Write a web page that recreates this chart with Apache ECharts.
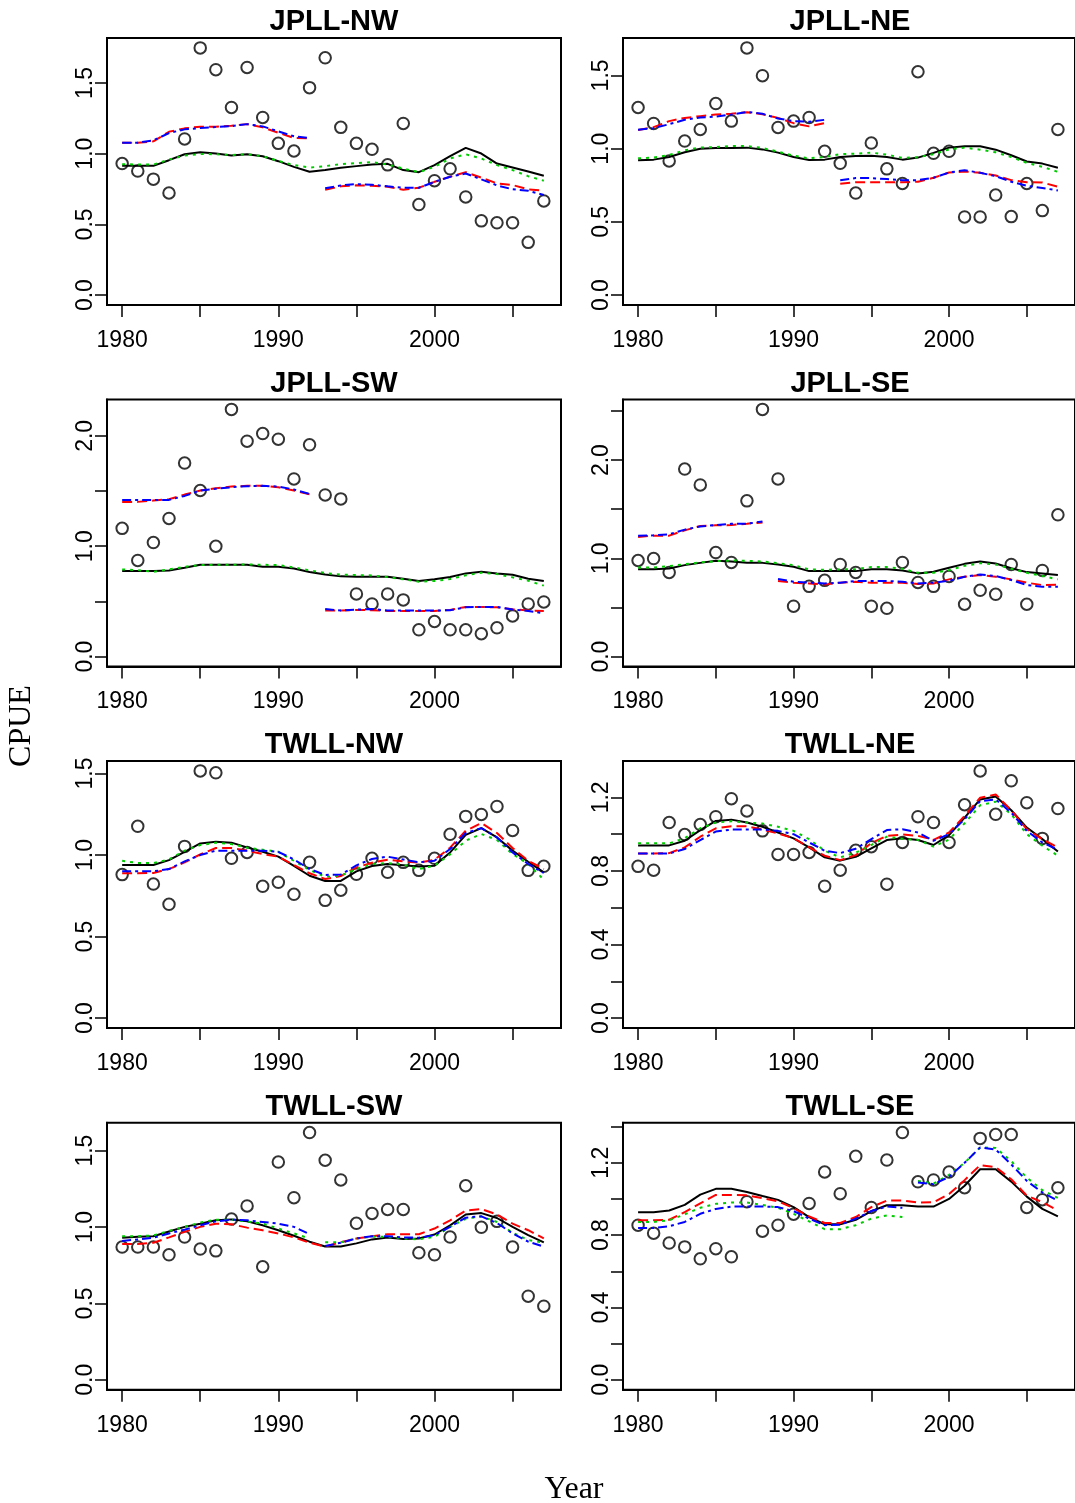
<!DOCTYPE html>
<html>
<head>
<meta charset="utf-8">
<title>CPUE</title>
<script src="https://cdn.jsdelivr.net/npm/echarts@6/dist/echarts.min.js"></script>
<style>
    html, body { margin: 0; padding: 0; background: #fff; }
    #main { width: 1075px; height: 1503px; }
</style>
</head>
<body>
<div id="main"></div>
<script>
// years
const years = [1980, 1981, 1982, 1983, 1984, 1985, 1986, 1987, 1988, 1989, 1990, 1991, 1992, 1993,
    1994, 1995, 1996, 1997, 1998, 1999, 2000, 2001, 2002, 2003, 2004, 2005, 2006, 2007];
const xTicks = [1980, 1985, 1990, 1995, 2000, 2005];
const xLabels = [1980, 1990, 2000];

// JPLL-NW
const jpllNwObs = [0.930, 0.877, 0.820, 0.722, 1.104, 1.748, 1.594, 1.327, 1.610, 1.256, 1.073, 1.019, 1.467, 1.678,
    1.186, 1.073, 1.031, 0.921, 1.214, 0.640, 0.809, 0.893, 0.694, 0.525, 0.511, 0.511, 0.373, 0.666];
const jpllNwBlack = [0.914, 0.914, 0.914, 0.954, 0.996, 1.010, 1.001, 0.987, 0.996, 0.982, 0.947, 0.907, 0.872, 0.884,
    0.900, 0.912, 0.923, 0.928, 0.884, 0.869, 0.919, 0.982, 1.041, 1.001, 0.930, 0.902, 0.874, 0.844];
const jpllNwRed = [1.078, 1.078, 1.087, 1.155, 1.179, 1.191, 1.191, 1.198, 1.209, 1.186, 1.148, 1.111, 1.108, 0.745,
    0.769, 0.776, 0.773, 0.766, 0.745, 0.759, 0.801, 0.837, 0.869, 0.830, 0.790, 0.778, 0.748, 0.738];
const jpllNwGreen = [0.926, 0.923, 0.923, 0.959, 0.987, 0.998, 0.996, 0.991, 0.996, 0.982, 0.949, 0.919, 0.902, 0.912,
    0.926, 0.933, 0.940, 0.923, 0.895, 0.869, 0.907, 0.966, 0.996, 0.966, 0.919, 0.884, 0.841, 0.809];
const jpllNwBlue = [1.078, 1.078, 1.094, 1.146, 1.172, 1.181, 1.188, 1.195, 1.209, 1.193, 1.158, 1.123, 1.111, 0.755,
    0.776, 0.785, 0.780, 0.769, 0.759, 0.759, 0.801, 0.837, 0.860, 0.818, 0.776, 0.748, 0.738, 0.708];

// JPLL-NE
const jpllNeObs = [1.281, 1.172, 0.916, 1.052, 1.131, 1.308, 1.188, 1.688, 1.498, 1.145, 1.188, 1.213, 0.982, 0.900,
    0.697, 1.038, 0.862, 0.762, 1.525, 0.968, 0.982, 0.534, 0.534, 0.683, 0.536, 0.762, 0.577, 1.131];
const jpllNeBlack = [0.921, 0.925, 0.943, 0.975, 1.000, 1.005, 1.005, 1.007, 0.995, 0.973, 0.943, 0.923, 0.925, 0.943,
    0.950, 0.952, 0.943, 0.925, 0.939, 0.971, 1.007, 1.016, 1.016, 0.993, 0.955, 0.912, 0.898, 0.869];
const jpllNeRed = [1.127, 1.147, 1.188, 1.210, 1.222, 1.233, 1.238, 1.249, 1.235, 1.210, 1.174, 1.152, 1.174, 0.760,
    0.771, 0.771, 0.771, 0.771, 0.774, 0.801, 0.837, 0.844, 0.835, 0.817, 0.785, 0.771, 0.769, 0.740];
const jpllNeGreen = [0.934, 0.939, 0.957, 0.989, 1.007, 1.011, 1.018, 1.018, 1.005, 0.980, 0.952, 0.934, 0.943, 0.962,
    0.966, 0.973, 0.959, 0.937, 0.941, 0.962, 0.995, 1.007, 0.993, 0.975, 0.943, 0.903, 0.876, 0.842];
const jpllNeBlue = [1.129, 1.140, 1.167, 1.197, 1.213, 1.219, 1.233, 1.251, 1.238, 1.206, 1.188, 1.183, 1.197, 0.785,
    0.799, 0.799, 0.792, 0.785, 0.785, 0.801, 0.837, 0.853, 0.835, 0.812, 0.774, 0.747, 0.731, 0.715];

// JPLL-SW
const jpllSwObs = [1.162, 0.871, 1.033, 1.252, 1.754, 1.505, 1.000, 2.240, 1.952, 2.021, 1.970, 1.610, 1.919, 1.465,
    1.429, 0.568, 0.477, 0.568, 0.514, 0.243, 0.318, 0.243, 0.243, 0.207, 0.261, 0.369, 0.477, 0.495];
const jpllSwBlack = [0.775, 0.775, 0.775, 0.781, 0.805, 0.832, 0.832, 0.832, 0.832, 0.814, 0.814, 0.799, 0.766, 0.745,
    0.727, 0.724, 0.724, 0.724, 0.706, 0.685, 0.700, 0.721, 0.754, 0.769, 0.754, 0.742, 0.706, 0.685];
const jpllSwRed = [1.402, 1.402, 1.414, 1.426, 1.468, 1.505, 1.526, 1.541, 1.547, 1.547, 1.535, 1.505, 1.471, 0.417,
    0.417, 0.423, 0.420, 0.414, 0.414, 0.414, 0.414, 0.423, 0.450, 0.450, 0.447, 0.429, 0.417, 0.414];
const jpllSwGreen = [0.790, 0.784, 0.769, 0.790, 0.814, 0.829, 0.832, 0.832, 0.835, 0.832, 0.829, 0.808, 0.781, 0.757,
    0.742, 0.739, 0.736, 0.721, 0.700, 0.679, 0.685, 0.703, 0.736, 0.760, 0.748, 0.718, 0.688, 0.643];
const jpllSwBlue = [1.420, 1.420, 1.420, 1.420, 1.456, 1.505, 1.520, 1.535, 1.544, 1.547, 1.541, 1.514, 1.474, 0.432,
    0.417, 0.426, 0.432, 0.417, 0.417, 0.417, 0.417, 0.420, 0.447, 0.450, 0.450, 0.426, 0.414, 0.393];

// JPLL-SE
const jpllSeObs = [0.978, 0.998, 0.857, 1.909, 1.747, 1.059, 0.958, 1.585, 2.516, 1.808, 0.513, 0.715, 0.776, 0.938,
    0.857, 0.513, 0.492, 0.958, 0.755, 0.715, 0.816, 0.533, 0.675, 0.634, 0.938, 0.533, 0.877, 1.443];
const jpllSeBlack = [0.890, 0.890, 0.897, 0.931, 0.954, 0.975, 0.968, 0.954, 0.954, 0.938, 0.914, 0.870, 0.870, 0.870,
    0.870, 0.890, 0.890, 0.877, 0.847, 0.863, 0.904, 0.944, 0.968, 0.948, 0.900, 0.860, 0.847, 0.830];
const jpllSeRed = [1.218, 1.231, 1.231, 1.285, 1.329, 1.336, 1.339, 1.352, 1.366, 0.769, 0.752, 0.745, 0.735, 0.752,
    0.762, 0.752, 0.752, 0.752, 0.739, 0.745, 0.786, 0.813, 0.830, 0.813, 0.786, 0.752, 0.728, 0.732];
const jpllSeGreen = [0.907, 0.907, 0.921, 0.941, 0.958, 0.971, 0.978, 0.975, 0.968, 0.951, 0.931, 0.887, 0.884, 0.887,
    0.890, 0.911, 0.911, 0.894, 0.853, 0.853, 0.880, 0.924, 0.951, 0.938, 0.894, 0.853, 0.820, 0.786];
const jpllSeBlue = [1.231, 1.234, 1.245, 1.292, 1.325, 1.339, 1.352, 1.352, 1.376, 0.789, 0.762, 0.752, 0.745, 0.752,
    0.769, 0.769, 0.769, 0.762, 0.745, 0.752, 0.772, 0.813, 0.836, 0.820, 0.779, 0.728, 0.712, 0.712];

// TWLL-NW
const twllNwObs = [0.880, 1.176, 0.822, 0.698, 1.053, 1.516, 1.504, 0.980, 1.016, 0.808, 0.833, 0.759, 0.955, 0.722,
    0.784, 0.882, 0.980, 0.894, 0.955, 0.906, 0.980, 1.127, 1.237, 1.249, 1.298, 1.151, 0.906, 0.931];
const twllNwBlack = [0.939, 0.939, 0.939, 0.969, 1.020, 1.071, 1.082, 1.076, 1.047, 1.020, 0.990, 0.933, 0.873, 0.841,
    0.841, 0.900, 0.933, 0.945, 0.937, 0.929, 0.935, 1.016, 1.124, 1.165, 1.108, 1.027, 0.959, 0.894];
const twllNwRed = [0.888, 0.888, 0.890, 0.914, 0.955, 1.004, 1.043, 1.043, 1.027, 1.006, 0.990, 0.939, 0.888, 0.853,
    0.871, 0.924, 0.953, 0.971, 0.961, 0.953, 0.971, 1.045, 1.149, 1.196, 1.135, 1.043, 0.965, 0.914];
const twllNwGreen = [0.965, 0.951, 0.951, 0.973, 1.027, 1.061, 1.076, 1.067, 1.045, 1.033, 1.020, 0.965, 0.908, 0.867,
    0.873, 0.914, 0.945, 0.951, 0.941, 0.914, 0.935, 1.004, 1.088, 1.129, 1.092, 1.006, 0.945, 0.849];
const twllNwBlue = [0.900, 0.900, 0.900, 0.914, 0.961, 1.000, 1.027, 1.027, 1.027, 1.027, 1.020, 0.973, 0.914, 0.878,
    0.880, 0.937, 0.976, 0.990, 0.973, 0.955, 0.965, 1.037, 1.135, 1.165, 1.108, 1.016, 0.945, 0.890];

// TWLL-NE
const twllNeObs = [0.825, 0.804, 1.063, 0.998, 1.052, 1.095, 1.193, 1.126, 1.018, 0.890, 0.890, 0.901, 0.717, 0.804,
    0.912, 0.932, 0.728, 0.955, 1.095, 1.063, 0.955, 1.160, 1.344, 1.108, 1.290, 1.171, 0.977, 1.139];
const twllNeBlack = [0.939, 0.939, 0.939, 0.964, 1.022, 1.072, 1.079, 1.063, 1.040, 1.009, 0.977, 0.928, 0.874, 0.856,
    0.877, 0.923, 0.968, 0.978, 0.968, 0.941, 0.995, 1.090, 1.189, 1.205, 1.130, 1.036, 0.973, 0.906];
const twllNeRed = [0.895, 0.895, 0.897, 0.928, 0.986, 1.032, 1.043, 1.043, 1.025, 1.004, 0.978, 0.928, 0.883, 0.859,
    0.886, 0.951, 0.991, 0.998, 0.991, 0.969, 1.009, 1.099, 1.198, 1.216, 1.130, 1.027, 0.973, 0.928];
const twllNeGreen = [0.950, 0.950, 0.950, 0.978, 1.032, 1.063, 1.070, 1.063, 1.058, 1.040, 1.018, 0.973, 0.910, 0.874,
    0.899, 0.941, 0.986, 0.975, 0.969, 0.932, 0.971, 1.059, 1.157, 1.177, 1.108, 1.000, 0.937, 0.883];
const twllNeBlue = [0.895, 0.895, 0.895, 0.919, 0.968, 1.014, 1.025, 1.025, 1.025, 1.018, 1.000, 0.955, 0.910, 0.897,
    0.921, 0.973, 1.022, 1.027, 1.009, 0.964, 1.000, 1.081, 1.180, 1.189, 1.117, 1.018, 0.955, 0.915];

// TWLL-SW
const twllSwObs = [0.869, 0.869, 0.869, 0.818, 0.934, 0.856, 0.844, 1.052, 1.138, 0.740, 1.425, 1.192, 1.618, 1.437,
    1.308, 1.024, 1.089, 1.115, 1.115, 0.831, 0.818, 0.934, 1.270, 0.998, 1.037, 0.869, 0.547, 0.482];
const twllSwBlack = [0.930, 0.936, 0.940, 0.971, 1.001, 1.022, 1.044, 1.050, 1.037, 1.011, 0.979, 0.943, 0.904, 0.872,
    0.872, 0.893, 0.919, 0.932, 0.921, 0.925, 0.951, 1.011, 1.082, 1.091, 1.059, 1.001, 0.947, 0.900];
const twllSwRed = [0.889, 0.889, 0.897, 0.932, 0.968, 1.001, 1.022, 1.018, 0.996, 0.979, 0.958, 0.932, 0.897, 0.872,
    0.900, 0.925, 0.940, 0.953, 0.953, 0.953, 0.990, 1.044, 1.108, 1.117, 1.082, 1.022, 0.979, 0.925];
const twllSwGreen = [0.940, 0.940, 0.945, 0.975, 1.001, 1.029, 1.048, 1.048, 1.037, 1.022, 0.990, 0.958, 0.925, 0.900,
    0.900, 0.925, 0.936, 0.936, 0.925, 0.919, 0.936, 1.001, 1.054, 1.070, 1.033, 0.962, 0.915, 0.897];
const twllSwBlue = [0.908, 0.919, 0.930, 0.958, 0.983, 1.011, 1.037, 1.048, 1.044, 1.033, 1.022, 1.001, 0.953, 0.876,
    0.897, 0.925, 0.940, 0.940, 0.932, 0.930, 0.947, 1.001, 1.061, 1.070, 1.026, 0.958, 0.904, 0.872];

// TWLL-SE
const twllSeObs = [0.855, 0.811, 0.756, 0.735, 0.669, 0.725, 0.680, 0.985, 0.822, 0.855, 0.916, 0.975, 1.149, 1.029,
    1.236, 0.953, 1.215, 1.367, 1.095, 1.105, 1.149, 1.062, 1.335, 1.356, 1.356, 0.953, 0.996, 1.062];
const twllSeBlack = [0.927, 0.927, 0.936, 0.967, 1.024, 1.056, 1.056, 1.038, 1.016, 0.995, 0.955, 0.900, 0.860, 0.860,
    0.885, 0.933, 0.965, 0.965, 0.958, 0.958, 1.000, 1.073, 1.164, 1.164, 1.096, 1.013, 0.945, 0.904];
const twllSeRed = [0.882, 0.882, 0.885, 0.927, 0.976, 1.022, 1.022, 1.020, 1.005, 0.987, 0.949, 0.904, 0.867, 0.867,
    0.900, 0.955, 0.991, 0.991, 0.980, 0.982, 1.027, 1.104, 1.187, 1.176, 1.109, 1.018, 0.982, 0.936];
const twllSeGreen = [0.873, 0.873, 0.882, 0.915, 0.951, 0.973, 0.980, 0.980, 0.967, 0.951, 0.918, 0.876, 0.833, 0.833,
    0.855, 0.891, 0.909, 0.900, 1.100, 1.085, 1.133, 1.200, 1.285, 1.282, 1.209, 1.118, 1.049, 1.005];
const twllSeBlue = [0.840, 0.840, 0.849, 0.873, 0.918, 0.945, 0.958, 0.958, 0.958, 0.955, 0.933, 0.891, 0.855, 0.858,
    0.891, 0.933, 0.958, 0.951, 1.091, 1.082, 1.122, 1.200, 1.285, 1.273, 1.191, 1.100, 1.036, 0.991];

// y ticks / labels
const ticks15 = [0, 0.5, 1, 1.5];
const ticks20 = [0, 0.5, 1, 1.5, 2];
const ticks25 = [0, 0.5, 1, 1.5, 2, 2.5];
const ticks12 = [0, 0.2, 0.4, 0.6, 0.8, 1.0, 1.2];
const ticks14 = [0, 0.2, 0.4, 0.6, 0.8, 1.0, 1.2, 1.4];
const labels15 = [0, 0.5, 1, 1.5];
const labels20 = [0, 1, 2];
const labels12 = [0, 0.4, 0.8, 1.2];

// split: year where the red / blue / green curve starts its second piece
const panels = [
    { title: 'JPLL-NW', obs: jpllNwObs, black: jpllNwBlack, red: jpllNwRed, green: jpllNwGreen, blue: jpllNwBlue,
        split: { red: 1993, blue: 1993 }, yTicks: ticks15, yLabels: labels15 },
    { title: 'JPLL-NE', obs: jpllNeObs, black: jpllNeBlack, red: jpllNeRed, green: jpllNeGreen, blue: jpllNeBlue,
        split: { red: 1993, blue: 1993 }, yTicks: ticks15, yLabels: labels15 },
    { title: 'JPLL-SW', obs: jpllSwObs, black: jpllSwBlack, red: jpllSwRed, green: jpllSwGreen, blue: jpllSwBlue,
        split: { red: 1993, blue: 1993 }, yTicks: ticks20, yLabels: labels20 },
    { title: 'JPLL-SE', obs: jpllSeObs, black: jpllSeBlack, red: jpllSeRed, green: jpllSeGreen, blue: jpllSeBlue,
        split: { red: 1989, blue: 1989 }, yTicks: ticks25, yLabels: labels20 },
    { title: 'TWLL-NW', obs: twllNwObs, black: twllNwBlack, red: twllNwRed, green: twllNwGreen, blue: twllNwBlue,
        split: {}, yTicks: ticks15, yLabels: labels15 },
    { title: 'TWLL-NE', obs: twllNeObs, black: twllNeBlack, red: twllNeRed, green: twllNeGreen, blue: twllNeBlue,
        split: {}, yTicks: ticks12, yLabels: labels12 },
    { title: 'TWLL-SW', obs: twllSwObs, black: twllSwBlack, red: twllSwRed, green: twllSwGreen, blue: twllSwBlue,
        split: { green: 1993, blue: 1993 }, yTicks: ticks15, yLabels: labels15 },
    { title: 'TWLL-SE', obs: twllSeObs, black: twllSeBlack, red: twllSeRed, green: twllSeGreen, blue: twllSeBlue,
        split: { green: 1998, blue: 1998 }, yTicks: ticks14, yLabels: labels12 }
];

const colLeft = [107, 623];
const rowTop = [38, 399.5, 761, 1122.7];
const plotW = 454;
const plotH = 267;

const styles = {
    black: { color: '#000000', type: 'solid' },
    red: { color: '#ff0000', type: [10, 5] },
    green: { color: '#00cd00', type: [3, 5] },
    blue: { color: '#0000ff', type: [9, 4, 3, 4] }
};

const labelFont = 'Liberation Sans, Arial, sans-serif';

let grids = [];
let xAxes = [];
let yAxes = [];
let series = [];
let graphics = [];

function pairs (vals, from, to) {
    let out = [];
    for (let i = 0; i < years.length; i++) {
        if (vals[i] === null) continue;
        if (years[i] >= from && years[i] < to) out.push([years[i], vals[i]]);
    }
    return out;
}

function addLine (idx, vals, key, split) {
    let pieces = split ? [[0, split], [split, 9999]] : [[0, 9999]];
    pieces.forEach(function (p) {
        series.push({
            type: 'line',
            xAxisIndex: idx,
            yAxisIndex: idx,
            data: pairs(vals, p[0], p[1]),
            symbol: 'none',
            silent: true,
            lineStyle: { color: styles[key].color, width: 2, type: styles[key].type },
            z: 3
        });
    });
}

panels.forEach(function (p, idx) {
    let row = Math.floor(idx / 2);
    let col = idx % 2;
    let top = rowTop[row];
    let left = colLeft[col];
    let M = Math.max.apply(null, p.obs);

    grids.push({
        left: left, top: top, width: plotW, height: plotH,
        show: true, borderColor: '#000', borderWidth: 2, backgroundColor: 'transparent'
    });
    xAxes.push({
        type: 'value', gridIndex: idx, min: 1979.03, max: 2008.1,
        axisLine: { show: true, onZero: false, lineStyle: { color: '#000', width: 2 } },
        axisTick: { show: true, inside: false, length: 12, customValues: xTicks, lineStyle: { color: '#000', width: 1.5 } },
        axisLabel: {
            customValues: xLabels, margin: 24, fontSize: 23, color: '#000', fontFamily: labelFont,
            formatter: function (v) { return String(v); }
        },
        splitLine: { show: false }
    });
    yAxes.push({
        type: 'value', gridIndex: idx, min: -0.04 * M, max: 1.04 * M,
        axisLine: { show: true, onZero: false, lineStyle: { color: '#000', width: 2 } },
        axisTick: { show: true, inside: false, length: 12, customValues: p.yTicks, lineStyle: { color: '#000', width: 1.5 } },
        axisLabel: {
            customValues: p.yLabels, rotate: 90, margin: 10, fontSize: 23, color: '#000', fontFamily: labelFont,
            formatter: function (v) { return v.toFixed(1); }
        },
        splitLine: { show: false }
    });

    series.push({
        type: 'scatter',
        xAxisIndex: idx,
        yAxisIndex: idx,
        data: pairs(p.obs, 0, 9999),
        symbol: 'circle',
        symbolSize: 11.5,
        silent: true,
        itemStyle: { color: 'rgba(0,0,0,0)', borderColor: '#000', borderWidth: 2 },
        z: 2
    });
    addLine(idx, p.black, 'black', p.split.black);
    addLine(idx, p.red, 'red', p.split.red);
    addLine(idx, p.green, 'green', p.split.green);
    addLine(idx, p.blue, 'blue', p.split.blue);

    graphics.push({
        type: 'text',
        x: left + plotW / 2,
        y: top - 16,
        style: {
            text: p.title, fill: '#000', align: 'center', verticalAlign: 'middle',
            font: 'bold 29px ' + labelFont
        }
    });
});

graphics.push({
    type: 'text', x: 22, y: 726, rotation: Math.PI / 2,
    style: { text: 'CPUE', fill: '#000', align: 'center', verticalAlign: 'middle', font: '32px Liberation Serif, Times New Roman, serif' }
});
graphics.push({
    type: 'text', x: 574, y: 1490,
    style: { text: 'Year', fill: '#000', align: 'center', verticalAlign: 'middle', font: '32px Liberation Serif, Times New Roman, serif' }
});

let chart = echarts.init(document.getElementById('main'), null, { renderer: 'canvas' });
chart.setOption({
    animation: false,
    backgroundColor: '#ffffff',
    grid: grids,
    xAxis: xAxes,
    yAxis: yAxes,
    series: series,
    graphic: graphics
});
</script>
</body>
</html>
